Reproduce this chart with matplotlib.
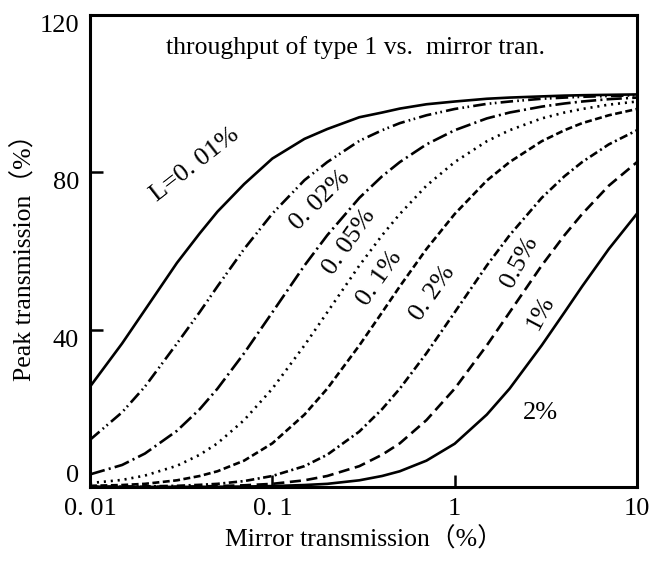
import matplotlib
matplotlib.use("Agg")
import matplotlib.pyplot as plt

plt.rcParams["font.family"] = ["Liberation Serif", "DejaVu Serif", "Noto Sans CJK SC"]
plt.rcParams["lines.scale_dashes"] = False

# mirror transmission (%) sample points
mirror_t = [0.01, 0.015, 0.02, 0.03, 0.04, 0.05, 0.07, 0.1, 0.15, 0.2, 0.3, 0.4, 0.5, 0.7,
            1, 1.5, 2, 3, 4, 5, 7, 10]

# peak transmission (%) for each loss L
peak_l001 = [25.5, 36.5, 45, 57, 64.5, 70, 77, 83.5, 88.5, 91, 94, 95.2, 96.2, 97.3,
             98, 98.7, 99, 99.3, 99.5, 99.6, 99.7, 99.8]
peak_l002 = [12, 19, 25.5, 36.5, 44.5, 51, 60.5, 69.5, 78, 82.6, 88, 90.7, 92.5, 94.5,
             96.1, 97.4, 98, 98.7, 99, 99.2, 99.4, 99.6]
peak_l005 = [3.2, 5.6, 8.5, 14.3, 19.8, 25, 34, 44.4, 56.3, 64, 73.5, 79, 82.6, 87.1,
             90.7, 93.7, 95.2, 96.7, 97.5, 98, 98.6, 99]
peak_l01 = [1, 1.8, 2.9, 5.4, 8.2, 11.1, 17, 25, 36, 44.4, 56.3, 64, 69.4, 76.6,
            82.6, 87.9, 90.7, 93.7, 95.2, 96.1, 97.2, 98]
peak_l02 = [0.3, 0.5, 0.8, 1.7, 2.8, 4, 6.7, 11.1, 18.4, 25, 36, 44.4, 51, 60.5,
            69.4, 77.9, 82.6, 87.9, 90.7, 92.5, 94.5, 96.1]
peak_l05 = [0.05, 0.09, 0.15, 0.3, 0.55, 0.8, 1.5, 2.8, 5.3, 8.2, 14.1, 19.8, 25, 34,
            44.4, 56.3, 64, 73.5, 79, 82.6, 87.1, 90.7]
peak_l1 = [0.01, 0.02, 0.04, 0.08, 0.15, 0.23, 0.43, 0.8, 1.7, 2.8, 5.3, 8.2, 11.1, 17,
           25, 36, 44.4, 56.3, 64, 69.4, 76.6, 82.6]
peak_l2 = [0, 0.01, 0.01, 0.02, 0.04, 0.06, 0.11, 0.23, 0.5, 0.8, 1.7, 2.8, 4, 6.7,
           11, 18.4, 25, 36, 44.4, 51, 60.5, 69.5]

series = [peak_l001, peak_l002, peak_l005, peak_l01, peak_l02, peak_l05, peak_l1, peak_l2]
curve_labels = ["L=0. 01%", "0. 02%", "0. 05%", "0. 1%", "0. 2%", "0.5%", "1%", "2%"]

x_ticks = [0.01, 0.1, 1, 10]
x_ticklabels = ["0. 01", "0. 1", "1", "10"]
y_ticks = [0, 40, 80, 120]

styles = [
    "-",
    (0, (9, 3, 1.2, 2.5, 1.2, 3)),
    (0, (11, 3, 1.5, 3)),
    (0, (1.5, 3.5)),
    (0, (5, 2.5)),
    (0, (6, 2.5, 1.5, 2.5)),
    (0, (8, 4)),
    "-",
]
# label placement (axes fraction) and rotation
label_pos = [(0.192, 0.682, 38), (0.420, 0.608, 45), (0.475, 0.519, 55), (0.530, 0.443, 55),
             (0.627, 0.411, 55), (0.786, 0.477, 62), (0.823, 0.369, 62), (0.823, 0.157, 0)]

fig = plt.figure(figsize=(6.57, 5.63), dpi=100)
ax = fig.add_axes([0.137, 0.135, 0.8326, 0.8384])

for vals, ls in zip(series, styles):
    ax.plot(mirror_t, vals, color="black", lw=1.9, linestyle=ls)

for text, (fx, fy, rot) in zip(curve_labels, label_pos):
    ax.text(fx, fy, text, transform=ax.transAxes, rotation=rot,
            ha="center", va="center", fontsize=19, rotation_mode="anchor")

ax.text(0.486, 0.932, "throughput of type 1 vs.  mirror tran.", transform=ax.transAxes,
        ha="center", va="center", fontsize=18.5)

ax.set_xscale("log")
ax.set_xlim(0.01, 10)
ax.set_ylim(0, 120)
ax.set_xticks(x_ticks)
ax.set_xticklabels(x_ticklabels)
ax.minorticks_off()
ax.set_yticks(y_ticks)
ax.set_yticklabels([str(v) for v in y_ticks])
ax.tick_params(direction="in", length=9, width=1.8, labelsize=19, pad=8)
for lab in ax.get_yticklabels():
    lab.set_verticalalignment("bottom" if lab.get_text() == "0" else "top")
for sp in ax.spines.values():
    sp.set_linewidth(2.2)

ax.set_xlabel("Mirror transmission（%）", fontsize=18.5, labelpad=5)
ax.set_ylabel("Peak transmission（%）", fontsize=18.5, labelpad=2)

fig.savefig("out.png", dpi=100)
